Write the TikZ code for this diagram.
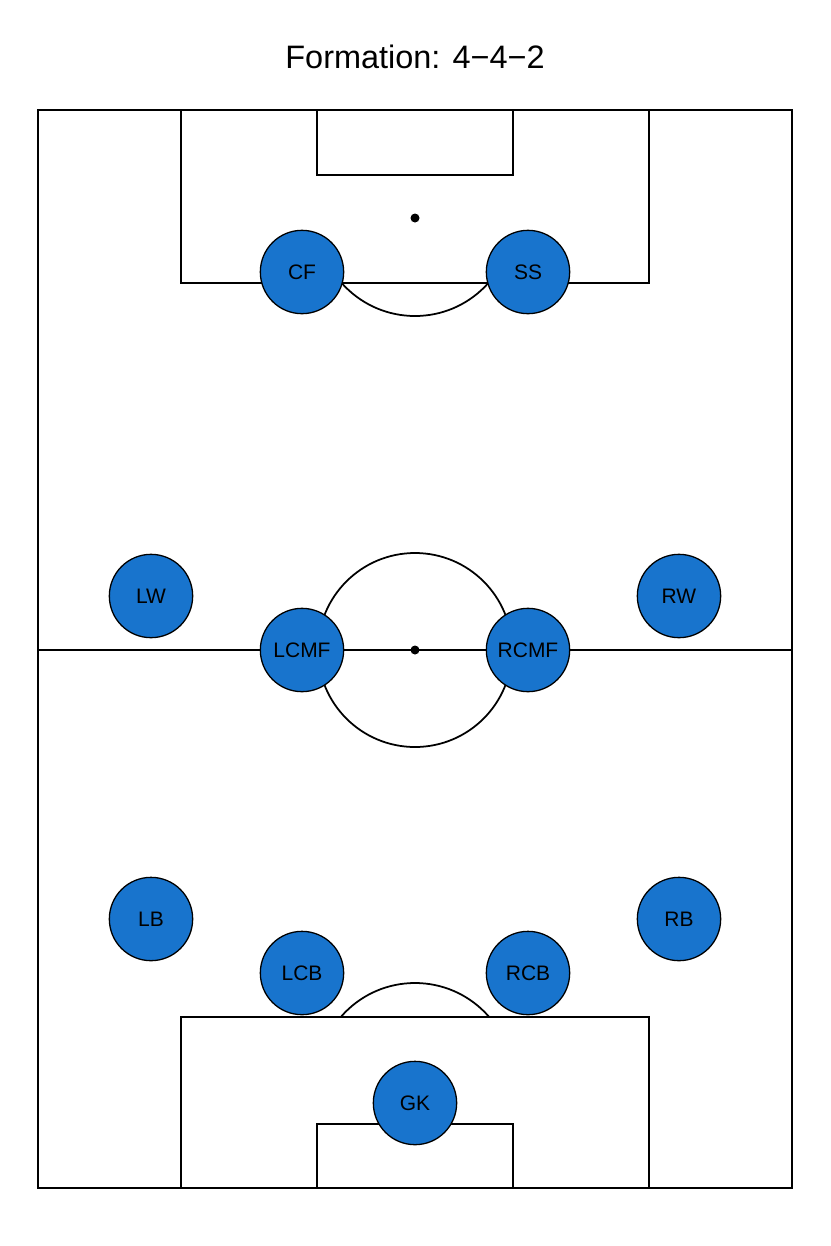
\documentclass[tikz,border=0pt]{standalone}
\usepackage{fontspec}
\setmainfont{Liberation Sans}
\usepackage{tikz}
\usetikzlibrary{positioning}
\definecolor{playerblue}{HTML}{1874CD}

\begin{document}
\begin{tikzpicture}[x=0.03cm, y=-0.03cm, line width=1.5pt]

	\tikzset{
		player/.style={
				circle, draw=black, fill=playerblue, line width=1.1pt, inner sep=0pt, minimum size=2.5cm,
				font=\fontsize{17.9}{20}\selectfont
			},
		spot/.style={
				circle, fill=black, inner sep=0pt, minimum size=0.27cm
			},
	}
	\useasboundingbox (0,0) rectangle (830,1246);

	% pitch
	\draw (38,110) rectangle (792,1188);
	\draw (38,650) -- (792,650);
	\draw (415,650) circle[radius=97];
	\draw (181,110) rectangle (649,283);
	\draw (317,110) rectangle (513,175);
	\draw (181,1188) rectangle (649,1017);
	\draw (317,1188) rectangle (513,1124);
	\begin{scope}
		\clip (38,283) rectangle (792,400);
		\draw (415,218) circle[radius=98];
	\end{scope}
	\begin{scope}
		\clip (38,900) rectangle (792,1017);
		\draw (415,1081) circle[radius=98];
	\end{scope}
	\node[spot](ptop) at (415,218){};
	\node[spot](cspot) at (415,650){};

	\node[anchor=base, font=\fontsize{27.7}{30}\selectfont](title) at (415,68){Formation: 4−4−2};

	% players
	\node[player](cf) at (302,272){CF};
	\node[player](ss) at (528,272){SS};
	\node[player](lw) at (151,596){LW};
	\node[player](rw) at (679,596){RW};
	\node[player](lcmf) at (302,650){LCMF};
	\node[player](rcmf) at (528,650){RCMF};
	\node[player](lb) at (151,919){LB};
	\node[player](rb) at (679,919){RB};
	\node[player](lcb) at (302,973){LCB};
	\node[player](rcb) at (528,973){RCB};
	\node[player](gk) at (415,1103){GK};

\end{tikzpicture}
\end{document}
